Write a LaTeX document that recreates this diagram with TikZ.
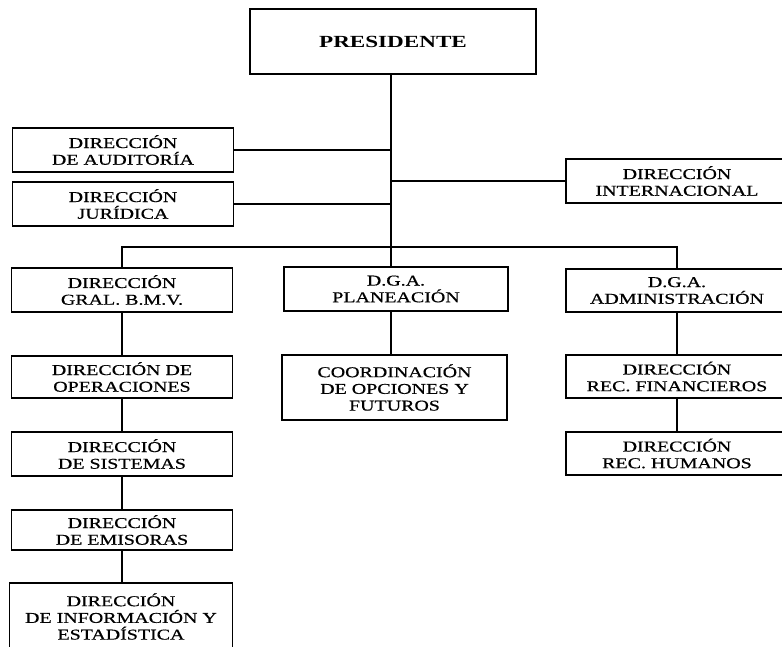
\documentclass[tikz,border=0pt]{standalone}
\usepackage{fontspec}
\setmainfont{Liberation Serif}[FakeStretch=1.33,FakeBold=0.6]
\newfontfamily\presfont{Liberation Serif}[FakeStretch=1.36]
\begin{document}
\begin{tikzpicture}[x=1pt,y=-1pt,
  orgbox/.style={draw=black, line width=1.3pt, rectangle, inner sep=0pt, align=center,
    font=\fontsize{15pt}{16.7pt}\selectfont, minimum width=221pt},
  link/.style={draw=black, line width=1.2pt}]
\useasboundingbox (0,0) rectangle (782,647);
\clip (0,0) rectangle (782,647);
% top
\node[orgbox, minimum width=286pt, minimum height=65pt, font=\presfont\bfseries\fontsize{17pt}{20pt}\selectfont] (pres) at (393,41.5) {PRESIDENTE};
% staff
\node[orgbox, minimum height=44pt] (aud) at (123,150) {DIRECCIÓN\\DE AUDITORÍA};
\node[orgbox, minimum height=44pt] (jur) at (123,204) {DIRECCIÓN\\JURÍDICA};
\node[orgbox, minimum width=222pt, minimum height=44pt] (int) at (677,181) {DIRECCIÓN\\INTERNACIONAL};
% row 2
\node[orgbox, minimum height=44pt] (gral) at (122,290) {DIRECCIÓN\\GRAL. B.M.V.};
\node[orgbox, minimum width=224pt, minimum height=44pt] (plan) at (396,289) {D.G.A.\\PLANEACIÓN};
\node[orgbox, minimum width=222pt, minimum height=43pt] (adm) at (677,290.5) {D.G.A.\\ADMINISTRACIÓN};
% row 3
\node[orgbox, minimum height=42pt] (oper) at (122,377) {DIRECCIÓN DE\\OPERACIONES};
\node[orgbox, minimum width=225pt, minimum height=65pt] (coord) at (394.5,387.5) {COORDINACIÓN\\DE OPCIONES Y\\FUTUROS};
\node[orgbox, minimum width=222pt, minimum height=43pt] (fin) at (677,376.5) {DIRECCIÓN\\REC. FINANCIEROS};
% row 4
\node[orgbox, minimum height=44pt] (sis) at (122,454) {DIRECCIÓN\\DE SISTEMAS};
\node[orgbox, minimum width=222pt, minimum height=43pt] (hum) at (677,453.5) {DIRECCIÓN\\REC. HUMANOS};
% rows 5, 6
\node[orgbox, minimum height=40pt] (emi) at (122,530) {DIRECCIÓN\\DE EMISORAS};
\node[orgbox, minimum width=223pt, minimum height=67pt] (info) at (121,616.5) {DIRECCIÓN\\DE INFORMACIÓN Y\\ESTADÍSTICA};
% connectors
\coordinate (t) at (391,247);
\coordinate (bl) at (122,247);
\coordinate (br) at (677,247);
\draw[link] (t |- pres.south) -- (t);
\draw[link] (aud.east) -- (aud.east -| t);
\draw[link] (jur.east) -- (jur.east -| t);
\draw[link] (int.west) -- (int.west -| t);
\draw[link] (gral.north) -- (bl) -- (br) -- (adm.north);
\draw[link] (t) -- (t |- plan.north);
\draw[link] (t |- plan.south) -- (t |- coord.north);
\draw[link] (gral.south) -- (oper.north);
\draw[link] (oper.south) -- (sis.north);
\draw[link] (sis.south) -- (emi.north);
\draw[link] (emi.south) -- (emi.south |- info.north);
\draw[link] (adm.south) -- (fin.north);
\draw[link] (fin.south) -- (hum.north);
\end{tikzpicture}
\end{document}
